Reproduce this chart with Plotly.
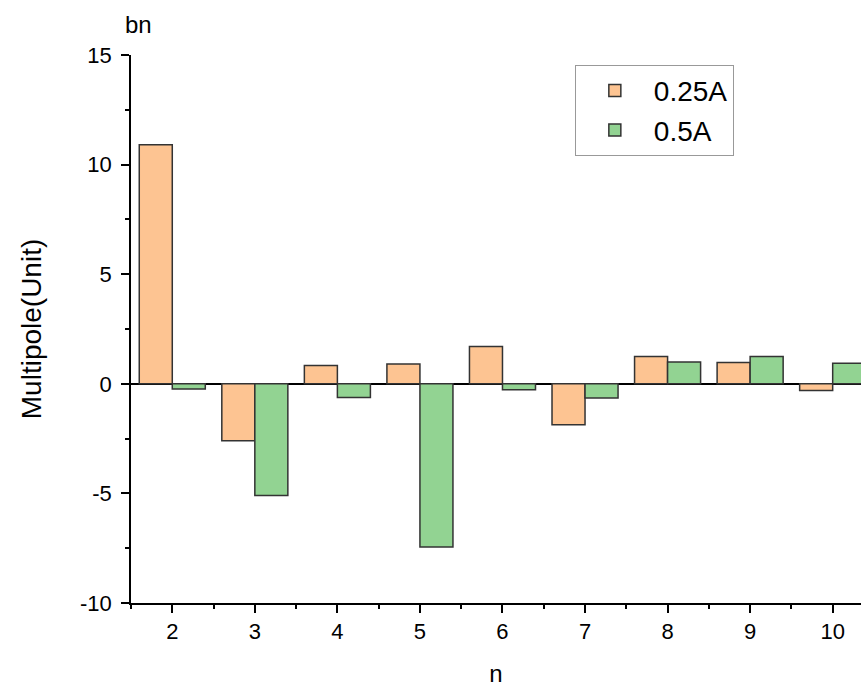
import plotly.graph_objects as go

n_values = [2, 3, 4, 5, 6, 7, 8, 9, 10]
series_025A = [10.9, -2.6, 0.84, 0.9, 1.7, -1.87, 1.25, 0.97, -0.3]
series_05A = [-0.24, -5.1, -0.63, -7.44, -0.27, -0.65, 0.99, 1.25, 0.94]
y_ticks = [-10, -5, 0, 5, 10, 15]
x_ticks = [2, 3, 4, 5, 6, 7, 8, 9, 10]

FONT = "Liberation Sans, Arial, sans-serif"

fig = go.Figure()
fig.add_trace(go.Bar(x=n_values, y=series_025A, name="0.25A",
                     marker=dict(color="#FDC492", line=dict(color="#333333", width=1.5))))
fig.add_trace(go.Bar(x=n_values, y=series_05A, name="0.5A",
                     marker=dict(color="#92D392", line=dict(color="#333333", width=1.5))))

fig.update_layout(
    width=861, height=687,
    margin=dict(l=131, r=0, t=55, b=84),
    barmode="group", bargap=0.2, bargroupgap=0,
    plot_bgcolor="white", paper_bgcolor="white",
    font=dict(family=FONT, size=22, color="black"),
    legend=dict(x=0.608, y=0.982, xanchor="left", yanchor="top",
                bordercolor="#999999", borderwidth=1,
                font=dict(size=28, color="black"), bgcolor="white",
                itemwidth=68, tracegroupgap=0),
    annotations=[dict(text="bn", xref="paper", yref="paper",
                      x=0.0, y=1.0, xanchor="center", yanchor="middle",
                      xshift=7, yshift=31, showarrow=False,
                      font=dict(size=24, color="black"))],
)

fig.update_xaxes(
    range=[1.5, 10.343], tickvals=x_ticks, ticktext=[str(v) for v in x_ticks],
    showline=True, linecolor="black", linewidth=1.5,
    ticks="outside", ticklen=8, tickwidth=1.5, tickcolor="black",
    minor=dict(dtick=0.5, tick0=1.5, ticks="outside", ticklen=4, tickwidth=1.5, tickcolor="black"),
    showgrid=False, zeroline=False,
    title=dict(text="n", standoff=24, font=dict(size=24)),
    tickfont=dict(size=22),
)
fig.update_yaxes(
    range=[-10, 15], tickvals=y_ticks, ticktext=[str(v) for v in y_ticks],
    showline=True, linecolor="black", linewidth=1.5,
    ticks="outside", ticklen=8, tickwidth=1.5, tickcolor="black",
    minor=dict(dtick=2.5, tick0=0, ticks="outside", ticklen=4, tickwidth=1.5, tickcolor="black"),
    showgrid=False, ticklabelstandoff=5,
    zeroline=True, zerolinecolor="black", zerolinewidth=1.5,
    title=dict(text="Multipole(Unit)", standoff=30, font=dict(size=28)),
    tickfont=dict(size=22),
)

fig.write_html("out.html")
